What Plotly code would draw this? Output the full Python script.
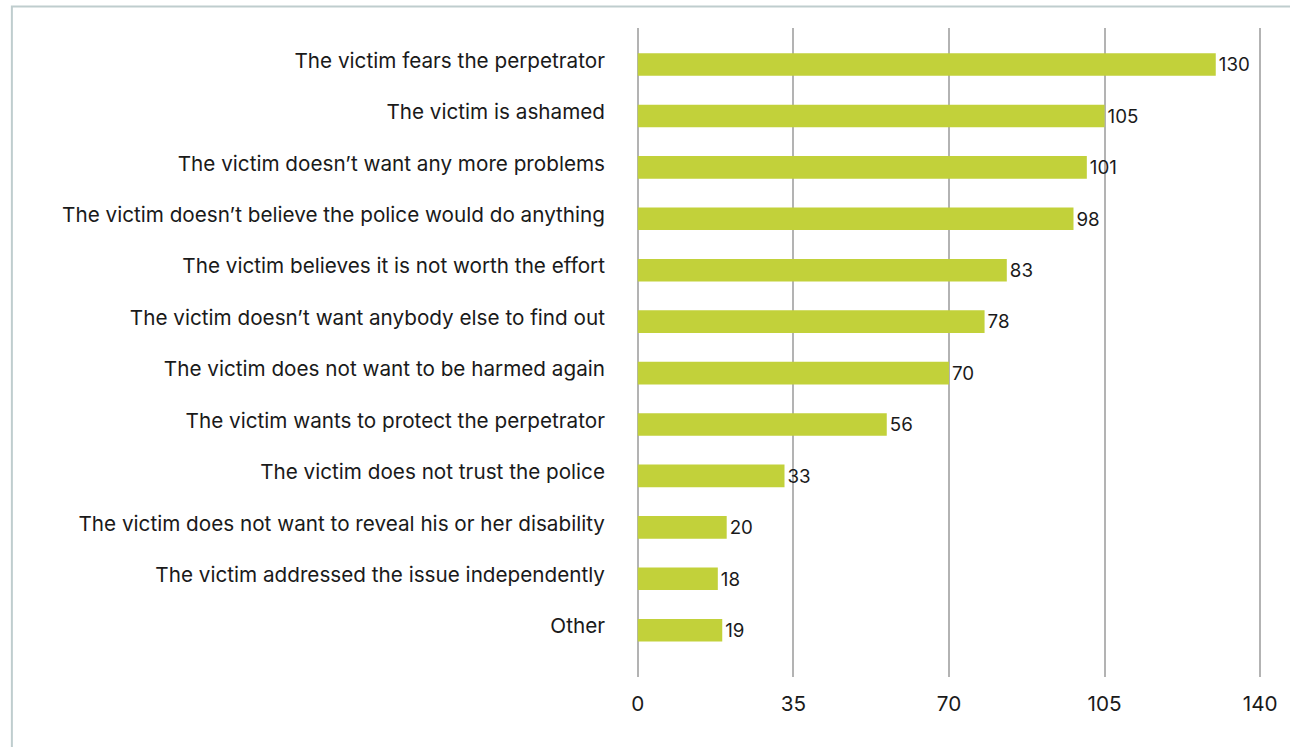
import plotly.graph_objects as go

reasons = [
    "The victim fears the perpetrator",
    "The victim is ashamed",
    "The victim doesn\u2019t want any more problems",
    "The victim doesn\u2019t believe the police would do anything",
    "The victim believes it is not worth the effort",
    "The victim doesn\u2019t want anybody else to find out",
    "The victim does not want to be harmed again",
    "The victim wants to protect the perpetrator",
    "The victim does not trust the police",
    "The victim does not want to reveal his or her disability",
    "The victim addressed the issue independently",
    "Other",
]
counts = [130, 105, 101, 98, 83, 78, 70, 56, 33, 20, 18, 19]
x_ticks = [0, 35, 70, 105, 140]

BAR_COLOR = "#c2d13a"
GRID_COLOR = "#b3b3b3"
TEXT_COLOR = "#1a1a1a"
FONT = "Inter, Roboto, Arial, sans-serif"
FS = 20.7

fig = go.Figure(
    go.Bar(
        x=counts,
        y=reasons,
        orientation="h",
        marker=dict(color=BAR_COLOR, line=dict(width=0)),
        width=0.44,
        text=[str(v) for v in counts],
        textposition="outside",
        textfont=dict(family=FONT, size=FS, color=TEXT_COLOR),
        cliponaxis=False,
        hoverinfo="skip",
    )
)

fig.update_layout(
    width=1290,
    height=747,
    margin=dict(l=636, r=19, t=28, b=70),
    paper_bgcolor="white",
    plot_bgcolor="white",
    font=dict(family=FONT, size=FS, color=TEXT_COLOR),
    showlegend=False,
    shapes=[
        dict(
            type="rect",
            xref="paper",
            yref="paper",
            x0=-0.997,
            x1=1.06,
            y0=-0.12,
            y1=1.0331,
            line=dict(color="#bfcdce", width=2),
            fillcolor="rgba(0,0,0,0)",
            layer="below",
        )
    ],
)

fig.update_xaxes(
    range=[-0.4, 140.4],
    tickvals=x_ticks,
    ticktext=[str(t) for t in x_ticks],
    showgrid=True,
    gridcolor=GRID_COLOR,
    gridwidth=1.5,
    zeroline=True,
    zerolinecolor=GRID_COLOR,
    zerolinewidth=1.5,
    showline=False,
    ticks="",
    ticklabelstandoff=12,
    tickfont=dict(family=FONT, size=FS, color=TEXT_COLOR),
)

fig.update_yaxes(
    categoryorder="array",
    categoryarray=reasons,
    range=[11.91, -0.71],
    showgrid=False,
    zeroline=False,
    showline=False,
    ticks="",
    ticklabelstandoff=30,
    ticklabelshift=4,
    tickfont=dict(family=FONT, size=FS, color=TEXT_COLOR),
)

fig.write_html("out.html")
